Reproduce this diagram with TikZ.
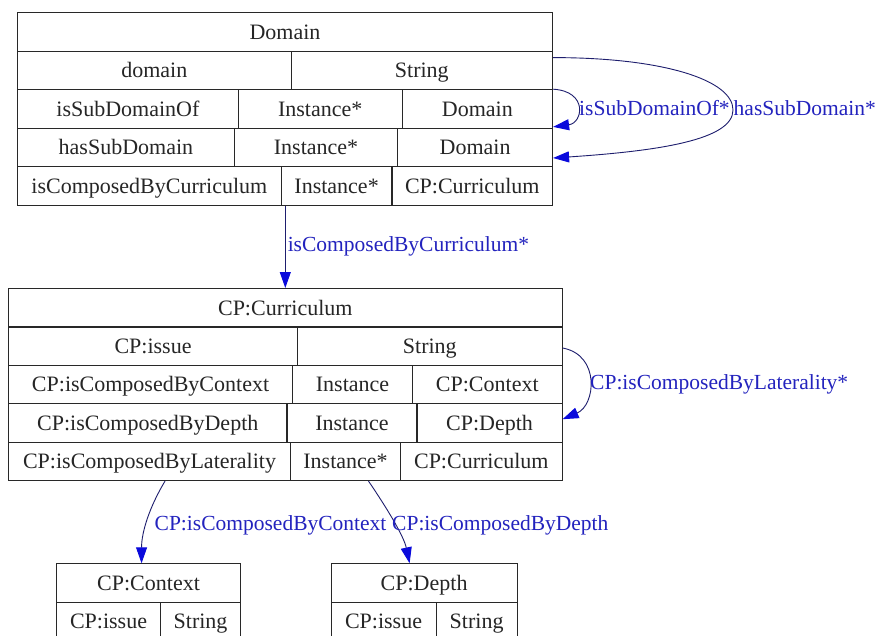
\documentclass[tikz,border=0pt]{standalone}
\usepackage{fontspec}
\setmainfont{Liberation Serif}
\usetikzlibrary{arrows.meta,calc}
\definecolor{gridline}{RGB}{40,40,40}
\definecolor{edgeline}{RGB}{30,30,110}
\definecolor{edgehead}{RGB}{10,10,220}
\definecolor{edgetext}{RGB}{35,35,190}
% one table cell: name, left x, right x, top y, height, text
\newcommand\mkcell[6]{%
  \pgfmathsetmacro\mkcellw{#3-#2}%
  \node[cell, minimum width=\mkcellw pt, minimum height=#5pt] (#1) at (#2,#4) {#6};}
\begin{document}
\begin{tikzpicture}[x=1pt,y=-1pt,
  font=\fontsize{22}{24}\selectfont,
  cell/.style={draw=gridline, line width=1.1pt, rectangle, inner sep=0pt,
    anchor=north west, text=black!85, text height=16.5pt, text depth=2pt},
  edge/.style={draw=edgeline, line width=0.9pt,
    -{Triangle[length=16pt,width=11pt,color=edgehead]}},
  elabel/.style={text=edgetext, inner sep=0pt, anchor=west,
    font=\fontsize{21.5}{24}\selectfont, text height=16pt, text depth=2pt}]
\clip (0,0) rectangle (877,636);
\fill[white] (0,0) rectangle (877,636);

% Domain
\mkcell{dh}{17}{552}{12}{38.6}{Domain}
\mkcell{d2a}{17}{290.5}{50.6}{38.6}{domain}
\mkcell{d2b}{290.5}{552}{50.6}{38.6}{String}
\mkcell{d3a}{17}{237.7}{89.2}{38.6}{isSubDomainOf}
\mkcell{d3b}{237.7}{401.5}{89.2}{38.6}{Instance*}
\mkcell{d3c}{401.5}{552}{89.2}{38.6}{Domain}
\mkcell{d4a}{17}{233.8}{127.8}{38.6}{hasSubDomain}
\mkcell{d4b}{233.8}{397.2}{127.8}{38.6}{Instance*}
\mkcell{d4c}{397.2}{552}{127.8}{38.6}{Domain}
\mkcell{d5a}{17}{280.7}{166.4}{38.6}{isComposedByCurriculum}
\mkcell{d5b}{280.7}{391.4}{166.4}{38.6}{Instance*}
\mkcell{d5c}{391.4}{552}{166.4}{38.6}{CP:Curriculum}

% CP:Curriculum
\mkcell{curh}{8}{561.5}{288}{38.4}{CP:Curriculum}
\mkcell{c2a}{8}{297}{326.4}{38.4}{CP:issue}
\mkcell{c2b}{297}{561.5}{326.4}{38.4}{String}
\mkcell{c3a}{8}{292}{364.8}{38.4}{CP:isComposedByContext}
\mkcell{c3b}{292}{412}{364.8}{38.4}{Instance}
\mkcell{c3c}{412}{561.5}{364.8}{38.4}{CP:Context}
\mkcell{c4a}{8}{286.4}{403.2}{38.4}{CP:isComposedByDepth}
\mkcell{c4b}{286.4}{416.4}{403.2}{38.4}{Instance}
\mkcell{c4c}{416.4}{561.5}{403.2}{38.4}{CP:Depth}
\mkcell{c5a}{8}{290}{441.6}{38.4}{CP:isComposedByLaterality}
\mkcell{c5b}{290}{400}{441.6}{38.4}{Instance*}
\mkcell{c5c}{400}{561.5}{441.6}{38.4}{CP:Curriculum}

% CP:Context
\mkcell{ctxh}{56}{240}{563.3}{38.4}{CP:Context}
\mkcell{x2a}{56}{160}{601.7}{38.4}{CP:issue}
\mkcell{x2b}{160}{240}{601.7}{38.4}{String}

% CP:Depth
\mkcell{deph}{330.5}{516.6}{563.3}{38.4}{CP:Depth}
\mkcell{p2a}{330.5}{435.5}{601.7}{38.4}{CP:issue}
\mkcell{p2b}{435.5}{516.6}{601.7}{38.4}{String}

% Domain -> CP:Curriculum
\draw[edge] (curh.north |- d5b.south) -- (curh.north)
  node[midway, elabel, xshift=2pt, yshift=3pt] (lcur) {isComposedByCurriculum*};

% Domain self references
\coordinate (oA) at ($(d2b.north east)+(0,7)$);
\coordinate (oB) at ($(d4c.south east)+(0,-9.5)$);
\coordinate (oM) at (733,110);
\draw[edge] (oA) .. controls +(110,0) and +(0,-30) .. (oM)
  .. controls +(0,30) and +(105,-7) .. (oB);
\draw[edge] (d3c.north east) .. controls +(35,2) and +(30,-4)
  .. ($(d3c.south east)+(0,-2)$);
\node[elabel] (lsub) at (579,109) {isSubDomainOf*};
\node[elabel] (lhas) at (733.5,109) {hasSubDomain*};

% CP:Curriculum self reference
\draw[edge] ($(c2b.north east)+(0,21.6)$) .. controls +(38,7) and +(33,-14)
  .. ($(c4c.north east)+(0,16)$);
\node[elabel] (llat) at (590,382) {CP:isComposedByLaterality*};

% CP:Curriculum -> CP:Context, CP:Depth
\draw[edge] ($(c5a.south west)+(157,0)$) .. controls +(-15,25) and +(0,-32)
  .. ($(ctxh.north)+(-7,0)$);
\draw[edge] ($(c5b.south west)+(78.5,0)$) .. controls +(17,25) and +(-6,-28)
  .. ($(deph.north)+(-14.5,0)$);
\node[elabel] (lctx) at (154.5,523) {CP:isComposedByContext};
\node[elabel] (ldep) at (392,523) {CP:isComposedByDepth};
\end{tikzpicture}
\end{document}
